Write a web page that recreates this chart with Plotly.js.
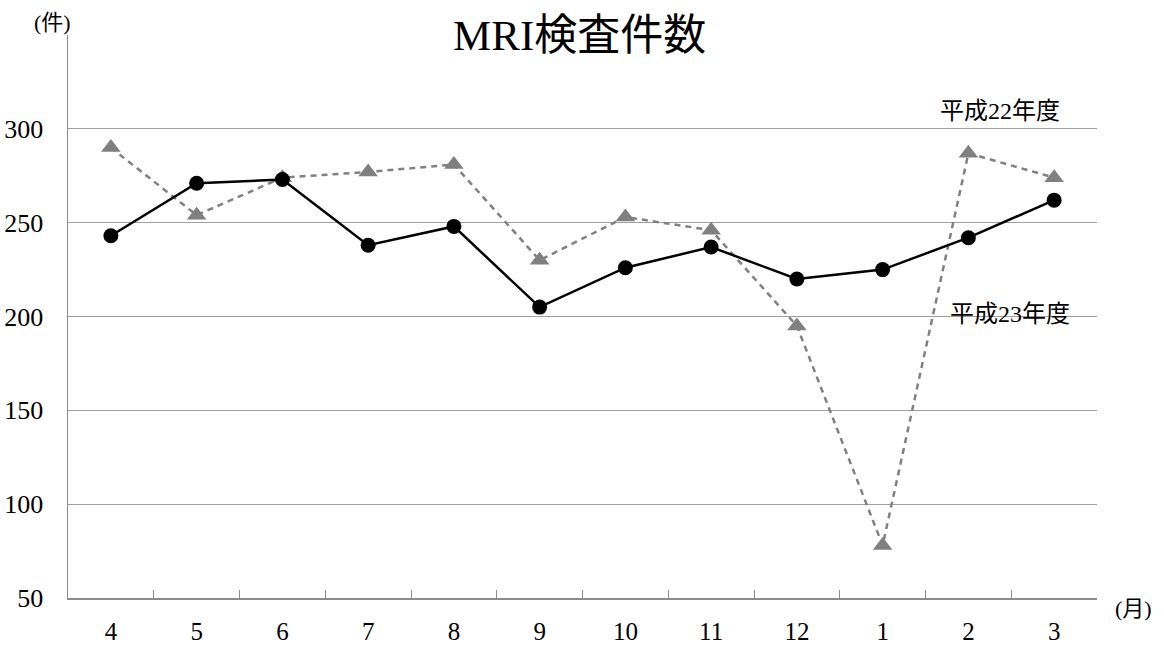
<!DOCTYPE html>
<html><head><meta charset="utf-8">
<script src="https://cdn.plot.ly/plotly-3.0.1.min.js"></script>
<style>html,body{margin:0;padding:0;background:#fff}#c{width:1164px;height:646px}</style>
</head><body><div id="c"></div>
<script>
const months = ['4','5','6','7','8','9','10','11','12','1','2','3'];
const h22 = [290, 254, 274, 277, 281, 230, 253, 246, 195, 78, 287, 274];
const h23 = [243, 271, 273, 238, 248, 205, 226, 237, 220, 225, 242, 262];
const yTicks = [50, 100, 150, 200, 250, 300];
const FONT = 'Liberation Serif, Noto Sans CJK JP, serif';

const traces = [
  {x: months, y: h22, type: 'scatter', mode: 'lines+markers', name: '平成22年度',
   line: {color: '#808080', width: 2.5, dash: '6px,5px'},
   marker: {symbol: 'triangle-up', size: 17, color: '#808080'}},
  {x: months, y: h23, type: 'scatter', mode: 'lines+markers', name: '平成23年度',
   line: {color: '#000000', width: 2.5},
   marker: {symbol: 'circle', size: 15, color: '#000000'}}
];

const layout = {
  width: 1164, height: 646,
  margin: {l: 68, r: 67, t: 35, b: 48},
  paper_bgcolor: '#fff', plot_bgcolor: '#fff',
  showlegend: false,
  font: {family: FONT, color: '#000', size: 25},
  title: {text: 'MRI検査件数', font: {family: FONT, size: 43, color: '#000'},
          x: 0.498, xanchor: 'center', y: 0.946, yanchor: 'middle', yref: 'container'},
  xaxis: {type: 'category', range: [-0.5, 11.5], showline: true, linecolor: '#8c8c8c', linewidth: 1.5,
          ticks: 'inside', tickson: 'boundaries', ticklen: 8, tickcolor: '#8c8c8c',
          showgrid: false, zeroline: false, ticklabelstandoff: 10,
          tickfont: {family: FONT, size: 25}},
  yaxis: {range: [50, 350], tickvals: yTicks, showline: true, linecolor: '#8c8c8c', linewidth: 1.5,
          showgrid: true, gridcolor: '#a0a0a0', gridwidth: 1, zeroline: false, ticks: '',
          ticklabelstandoff: 18, tickfont: {family: FONT, size: 26}},
  annotations: [
    {text: '(件)', xref: 'paper', yref: 'paper', x: -0.0155, y: 1.023, xanchor: 'center', yanchor: 'middle',
     showarrow: false, font: {family: FONT, size: 22}},
    {text: '(月)', xref: 'paper', yref: 'paper', x: 1.035, y: -0.018, xanchor: 'center', yanchor: 'middle',
     showarrow: false, font: {family: FONT, size: 22}},
    {text: '平成22年度', xref: 'paper', yref: 'paper', x: 0.906, y: 0.865, xanchor: 'center', yanchor: 'middle',
     showarrow: false, bgcolor: '#fff', font: {family: FONT, size: 24}},
    {text: '平成23年度', xref: 'paper', yref: 'paper', x: 0.915, y: 0.504, xanchor: 'center', yanchor: 'middle',
     showarrow: false, font: {family: FONT, size: 24}}
  ]
};
Plotly.newPlot('c', traces, layout, {displayModeBar: false, staticPlot: true});
</script></body></html>
